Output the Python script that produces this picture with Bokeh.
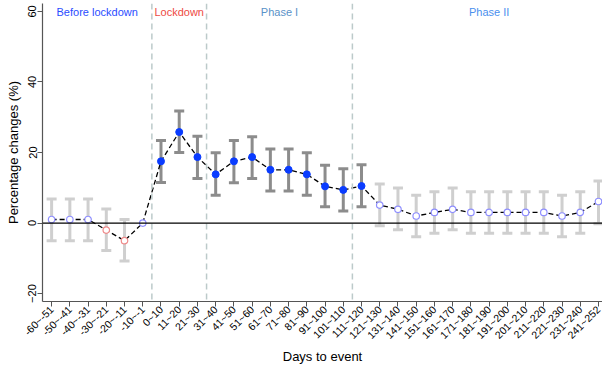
import math
from bokeh.plotting import figure
from bokeh.models import (ColumnDataSource, Whisker, TeeHead, Span, FixedTicker, Range1d, Label)
from bokeh.embed import file_html
from bokeh.resources import INLINE

categories = ["-60~-51", "-50~-41", "-40~-31", "-30~-21", "-20~-11", "-10~-1",
              "0~10", "11~20", "21~30", "31~40", "41~50", "51~60", "61~70", "71~80",
              "81~90", "91~100", "101~110", "111~120", "121~130", "131~140", "141~150",
              "151~160", "161~170", "171~180", "181~190", "191~200", "201~210", "211~220",
              "221~230", "231~240", "241~252"]
estimate = [1.0, 1.0, 1.0, -2.0, -5.0, 0.0,
            17.5, 25.8, 18.7, 13.8, 17.5, 18.7, 15.1, 15.1,
            13.8, 10.4, 9.4, 10.5, 5.1, 3.9, 2.0,
            3.0, 3.9, 3.0, 3.0, 3.0, 3.0, 3.0,
            2.0, 3.0, 6.1]
ci_low = [-5.0, -5.0, -5.0, -7.8, -10.8, None,
          11.5, 20.0, 12.6, 7.9, 11.4, 12.6, 9.1, 9.1,
          7.9, 4.6, 3.4, 4.6, -0.8, -1.9, -3.9,
          -2.9, -1.9, -2.9, -2.9, -2.9, -2.9, -2.9,
          -3.9, -2.9, -0.2]
ci_high = [6.8, 6.8, 6.8, 4.0, 1.0, None,
           23.4, 31.8, 24.6, 19.9, 23.4, 24.5, 21.0, 21.0,
           19.9, 16.4, 15.4, 16.5, 11.1, 9.9, 7.9,
           8.9, 9.9, 8.9, 8.9, 8.9, 8.9, 8.9,
           7.9, 8.9, 11.9]
phase_ends = ["-10~-1", "21~30", "101~110"]
phase_labels = ["Before lockdown", "Lockdown", "Phase I", "Phase II"]
y_ticks = [-20, 0, 20, 40, 60]

FONT = "Liberation Sans"
idx = list(range(len(categories)))

p = figure(width=602, height=367, output_backend="svg", toolbar_location=None,
           x_range=Range1d(-0.5, 30.22), y_range=Range1d(-22.25, 62.25),
           min_border_left=42, min_border_right=0, min_border_top=3, min_border_bottom=64)
p.outline_line_color = None
p.xgrid.visible = False
p.ygrid.visible = False

# phase boundaries
bounds = [categories.index(c) + 0.5 for c in phase_ends]
for b in bounds:
    p.add_layout(Span(location=b, dimension="height", line_color="#bccaca",
                      line_dash="6 4", line_width=1.5))
p.add_layout(Span(location=0, dimension="width", line_color="black", line_width=1.2))

# error bars
def group(pred):
    d = dict(x=[], lo=[], hi=[])
    for i in idx:
        lo, hi = ci_low[i], ci_high[i]
        if lo is None:
            continue
        if pred(lo, hi):
            d["x"].append(i); d["lo"].append(lo); d["hi"].append(hi)
    return ColumnDataSource(d)

sig_src = group(lambda lo, hi: lo > 0 or hi < 0)
ns_src = group(lambda lo, hi: not (lo > 0 or hi < 0))
for src, col in [(ns_src, "#cfcfcf"), (sig_src, "#8c8c8c")]:
    w = Whisker(base="x", lower="lo", upper="hi", source=src,
                line_color=col, line_width=3,
                upper_head=TeeHead(size=10, line_color=col, line_width=3),
                lower_head=TeeHead(size=10, line_color=col, line_width=3))
    p.add_layout(w)

# connecting line
p.line(idx, estimate, line_color="black", line_dash="5 3", line_width=1.3)

# markers
sx, sy, hx, hy, hc = [], [], [], [], []
for i in idx:
    lo, hi = ci_low[i], ci_high[i]
    if lo is not None and (lo > 0 or hi < 0):
        sx.append(i); sy.append(estimate[i])
    else:
        hx.append(i); hy.append(estimate[i])
        hc.append("#ef8a8a" if estimate[i] < 0 else "#8f8fff")
p.scatter(sx, sy, size=7, fill_color="#0a3cff", line_color="#0a3cff")
p.scatter(hx, hy, size=6.5, fill_color="white", line_color=hc, line_width=1.2)

# phase labels
starts = [-0.5] + bounds
ends = bounds + [len(categories) + 0.5]
label_colors = ["#2a4cff", "#ee4a44", "#5a92c8", "#4a90ee"]
for txt, s, e, c in zip(phase_labels, starts, ends, label_colors):
    p.add_layout(Label(x=(s + e) / 2, y=59.7, text=txt, text_align="center",
                       text_baseline="middle", text_color=c, text_font=FONT,
                       text_font_size="11px"))

# axes
p.xaxis.ticker = FixedTicker(ticks=idx)
p.xaxis.major_label_overrides = {i: c for i, c in zip(idx, categories)}
p.xaxis.major_label_orientation = math.pi / 4
p.xaxis.axis_label = "Days to event"
p.yaxis.ticker = FixedTicker(ticks=y_ticks)
p.yaxis.major_label_orientation = "vertical"
p.yaxis.axis_label = "Percentage changes (%)"
for ax in (p.xaxis, p.yaxis):
    ax.axis_line_color = "#555555"
    ax.axis_line_width = 1.2
    ax.major_tick_line_color = "#555555"
    ax.major_tick_out = 5
    ax.major_tick_in = 0
    ax.minor_tick_line_color = None
    ax.major_label_text_font = FONT
    ax.major_label_text_font_size = "10.5px"
    ax.major_label_text_color = "black"
    ax.axis_label_text_font = FONT
    ax.axis_label_text_font_size = "13px"
    ax.axis_label_text_font_style = "normal"
    ax.axis_label_text_color = "black"
    ax.major_label_standoff = 1
p.xaxis.axis_label_standoff = 1
p.yaxis.axis_label_standoff = 5
p.yaxis.major_label_text_font_size = "11px"

open("out.html", "w").write(file_html(p, INLINE))
